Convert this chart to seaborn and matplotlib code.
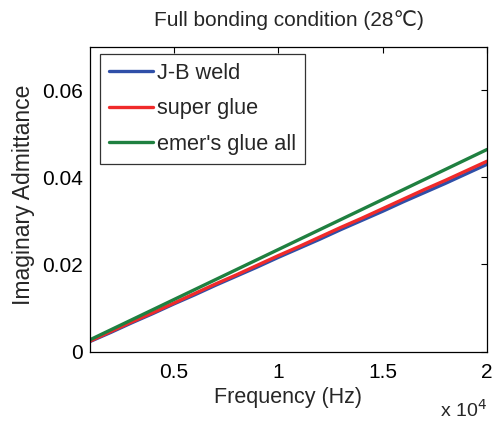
import pandas as pd
import seaborn as sns
import matplotlib.pyplot as plt

# data (Hz, imaginary admittance)
freq = [1000, 2000, 3000, 4000, 5000, 6000, 7000, 8000, 9000, 10000,
        11000, 12000, 13000, 14000, 15000, 16000, 17000, 18000, 19000, 20000]
jb_weld = [0.0023, 0.0044, 0.0066, 0.0087, 0.0109, 0.0130, 0.0152, 0.0173, 0.0194, 0.0216,
           0.0237, 0.0258, 0.0280, 0.0301, 0.0322, 0.0344, 0.0365, 0.0386, 0.0408, 0.0430]
super_glue = [0.0024, 0.0046, 0.0068, 0.0089, 0.0111, 0.0133, 0.0155, 0.0176, 0.0198, 0.0220,
              0.0241, 0.0263, 0.0285, 0.0306, 0.0328, 0.0350, 0.0372, 0.0393, 0.0415, 0.0437]
emers_glue = [0.0027, 0.0050, 0.0073, 0.0096, 0.0119, 0.0142, 0.0165, 0.0188, 0.0211, 0.0234,
              0.0257, 0.0280, 0.0303, 0.0326, 0.0349, 0.0372, 0.0395, 0.0418, 0.0441, 0.0464]
labels = ["J-B weld", "super glue", "emer's glue all"]
colors = ['#2f4fa8', '#f02a2a', '#1f8040']
xticks = [5000, 10000, 15000, 20000]
xticklabels = ['0.5', '1', '1.5', '2']
yticks = [0, 0.02, 0.04, 0.06]
yticklabels = ['0', '0.02', '0.04', '0.06']

sns.set_style('white')
plt.rcParams['font.family'] = ['Liberation Sans', 'DejaVu Sans']

df = pd.concat([
    pd.DataFrame({'freq': freq, 'val': v, 'glue': name})
    for name, v in zip(labels, [jb_weld, super_glue, emers_glue])
], ignore_index=True)

fig = plt.figure(figsize=(5, 4.21), dpi=100)
ax = fig.add_axes([0.18, 0.165, 0.794, 0.724])
sns.lineplot(data=df, x='freq', y='val', hue='glue', hue_order=labels,
             palette=dict(zip(labels, colors)), linewidth=2.4, ax=ax)

ax.set_xlim(1000, 20000)
ax.set_ylim(0, 0.07)
ax.set_xticks(xticks)
ax.set_xticklabels(xticklabels)
ax.set_yticks(yticks)
ax.set_yticklabels(yticklabels)
ax.tick_params(direction='in', length=4, width=0.8, labelsize=15,
               top=True, right=True, colors='black')
ax.tick_params(axis='x', pad=8)
ax.tick_params(axis='y', pad=5)
for s in ax.spines.values():
    s.set_color('black')
    s.set_linewidth(0.9)

ax.set_title('Full bonding condition (28\u2103)', fontsize=15, pad=15)
ax.set_xlabel('Frequency (Hz)', fontsize=15.5, labelpad=4)
ax.set_ylabel('Imaginary Admittance', fontsize=16.5)
ax.yaxis.set_label_coords(-0.138, 0.514)
ax.text(1.0, -0.19, 'x 10$^{4}$', transform=ax.transAxes, ha='right',
        va='center', fontsize=14)

leg = ax.legend(loc='upper left', bbox_to_anchor=(0.025, 0.975), fontsize=15.7,
                frameon=True, fancybox=False, edgecolor='black',
                handlelength=2.05, handletextpad=0.18, labelspacing=0.66,
                borderpad=0.4, borderaxespad=0.0)
leg.get_frame().set_linewidth(0.9)

fig.savefig('out.png', dpi=100)
